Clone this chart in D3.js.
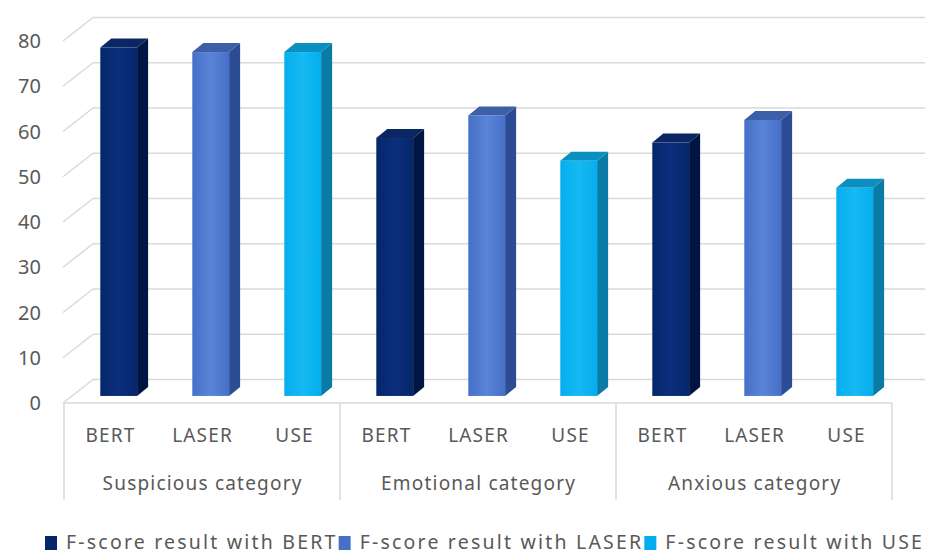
<!DOCTYPE html>
<html>
<head>
<meta charset="utf-8">
<script src="https://cdn.jsdelivr.net/npm/d3@7"></script>
<style>
  body { margin: 0; background: #fff; }
  text { font-family: "Noto Sans", "Open Sans", sans-serif; fill: #595959; }
</style>
</head>
<body>
<div id="chart"></div>
<script>
// data
const categories = ["Suspicious category", "Emotional category", "Anxious category"];
const models = ["BERT", "LASER", "USE"];
const bertScores = [77, 57, 56];
const laserScores = [76, 62, 61];
const useScores = [76, 52, 46];
const yTicks = [0, 10, 20, 30, 40, 50, 60, 70, 80];
const legendLabels = ["F-score result with BERT", "F-score result with LASER", "F-score result with USE"];

const W = 944, H = 556;
// colours for each series: front, side, top
const palette = [
    { front: "#05266b", light: "#0b2f7c", side: "#011543", top: "#0a2663" },
    { front: "#4670c8", light: "#5a84d6", side: "#2c4c93", top: "#3d5fa8" },
    { front: "#04aeee", light: "#16b9f2", side: "#0a7ba6", top: "#0a8fc0" }
];
const seriesValues = [bertScores, laserScores, useScores];

// flatten into one row per bar
let bars = [];
categories.forEach((cat, ci) => {
    models.forEach((m, mi) => {
        bars.push({ cat: cat, model: m, series: mi, value: seriesValues[mi][ci], key: cat + "|" + m });
    });
});

const svg = d3.select("#chart").append("svg")
    .attr("width", W)
    .attr("height", H);

const defs = svg.append("defs");
palette.forEach((c, i) => {
    let g = defs.append("linearGradient").attr("id", "grad" + i)
        .attr("x1", "0").attr("x2", "1").attr("y1", "0").attr("y2", "0");
    g.append("stop").attr("offset", "0").attr("stop-color", c.front);
    g.append("stop").attr("offset", "0.5").attr("stop-color", c.light);
    g.append("stop").attr("offset", "1").attr("stop-color", c.front);
});

// front plane scales
const x = d3.scaleBand()
    .domain(bars.map(d => d.key))
    .range([64, 892]);
const xCat = d3.scaleBand()
    .domain(categories)
    .range([64, 892]);
const y = d3.scaleLinear()
    .domain([0, 80])
    .range([403, 41]);

// depth of the 3D box
const DX = 29, DY = -23.5;
const proj = (px, v, depth) => [px + depth * DX, y(v) + depth * DY];
const pts = arr => arr.map(p => p.join(",")).join(" ");

const gridColor = "#d9d9d9";

// back wall grid and left wall diagonals
const grid = svg.append("g");
yTicks.forEach(t => {
    let a = proj(x.range()[0], t, 1), b = proj(x.range()[1] + 4, t, 1);
    grid.append("line")
        .attr("x1", a[0]).attr("y1", a[1]).attr("x2", b[0]).attr("y2", b[1])
        .attr("stroke", gridColor).attr("stroke-width", 1.5);
    let c = proj(x.range()[0] - 1, t, 0);
    grid.append("line")
        .attr("x1", c[0]).attr("y1", c[1]).attr("x2", a[0]).attr("y2", a[1])
        .attr("stroke", gridColor).attr("stroke-width", 1.5);
});

// floor front edge and category separators
grid.append("line")
    .attr("x1", x.range()[0]).attr("x2", x.range()[1])
    .attr("y1", y(0)).attr("y2", y(0))
    .attr("stroke", gridColor).attr("stroke-width", 1.5);
const sepX = categories.map(c => xCat(c)).concat([xCat.range()[1]]);
sepX.forEach(sx => {
    grid.append("line")
        .attr("x1", sx).attr("x2", sx)
        .attr("y1", y(0)).attr("y2", 500)
        .attr("stroke", gridColor).attr("stroke-width", 1.5);
});

// y axis labels on the front plane
svg.append("g").selectAll("text")
    .data(yTicks)
    .enter()
    .append("text")
    .attr("x", 41)
    .attr("y", d => y(d))
    .attr("dy", "0.36em")
    .attr("text-anchor", "end")
    .style("font-size", "20px")
    .text(d => d);

// bars
const bw = x.bandwidth() * 0.4;
const f = 0.3, bk = 0.68;
const barG = svg.append("g");
bars.forEach(d => {
    let xl = x(d.key) + (x.bandwidth() - bw) / 2;
    let xr = xl + bw;
    let c = palette[d.series];
    let g = barG.append("g");
    // side face
    g.append("polygon")
        .attr("points", pts([proj(xr, 0, f), proj(xr, 0, bk), proj(xr, d.value, bk), proj(xr, d.value, f)]))
        .attr("fill", c.side);
    // top face
    g.append("polygon")
        .attr("points", pts([proj(xl, d.value, f), proj(xr, d.value, f), proj(xr, d.value, bk), proj(xl, d.value, bk)]))
        .attr("fill", c.top);
    // front face
    let p0 = proj(xl, d.value, f), p1 = proj(xr, 0, f);
    g.append("rect")
        .attr("x", p0[0]).attr("y", p0[1])
        .attr("width", p1[0] - p0[0]).attr("height", p1[1] - p0[1])
        .attr("fill", "url(#grad" + d.series + ")");
});

// model labels under each bar
svg.append("g").selectAll("text")
    .data(bars)
    .enter()
    .append("text")
    .attr("x", d => x(d.key) + x.bandwidth() / 2 + 0.6)
    .attr("y", 442)
    .attr("text-anchor", "middle")
    .style("font-size", "19px")
    .style("letter-spacing", "1.2px")
    .text(d => d.model);

// category labels
svg.append("g").selectAll("text")
    .data(categories)
    .enter()
    .append("text")
    .attr("x", d => xCat(d) + xCat.bandwidth() / 2 + 0.6)
    .attr("y", 490)
    .attr("text-anchor", "middle")
    .style("font-size", "19px")
    .style("letter-spacing", "1.2px")
    .text(d => d);

// legend
const legend = svg.append("g");
let lx = 45;
legendLabels.forEach((lab, i) => {
    legend.append("rect")
        .attr("x", lx).attr("y", 536)
        .attr("width", 12).attr("height", 14)
        .attr("fill", palette[i].front);
    let t = legend.append("text")
        .attr("x", lx + 21).attr("y", 549)
        .style("font-size", "19.5px")
        .style("letter-spacing", "2.2px")
        .text(lab);
    lx = lx + 21 + t.node().getComputedTextLength() + 1;
});
</script>
</body>
</html>
